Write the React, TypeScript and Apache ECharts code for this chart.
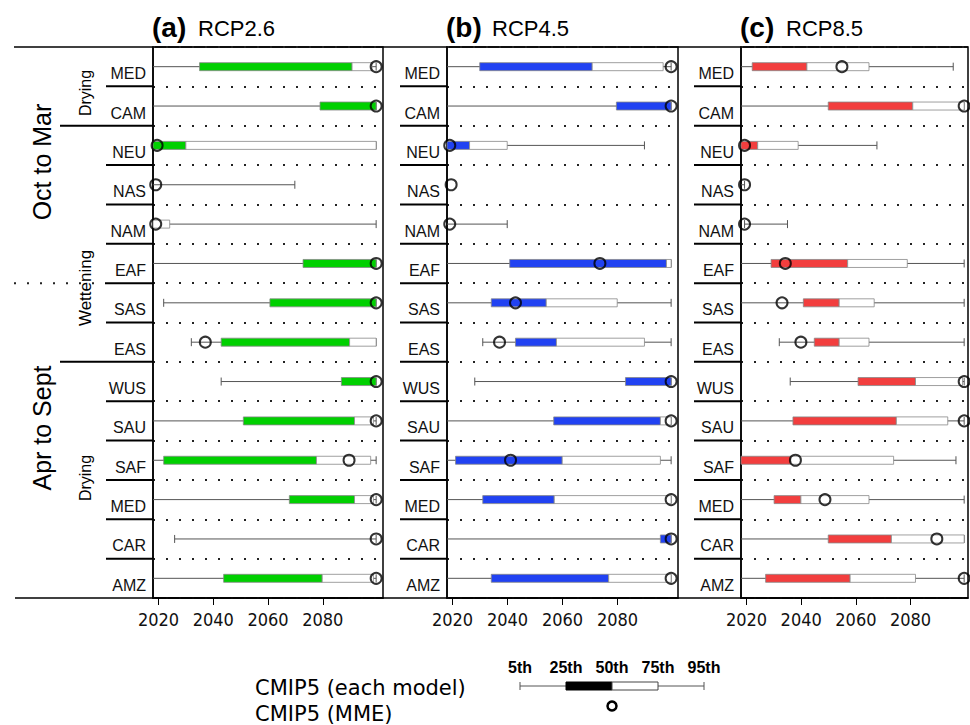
import React, { useEffect, useRef } from "react";
import * as echarts from "echarts";

const regions = ["MED", "CAM", "NEU", "NAS", "NAM", "EAF", "SAS", "EAS", "WUS", "SAU", "SAF", "MED", "CAR", "AMZ"];
const tickYears = [2020, 2040, 2060, 2080];
const panelTitles = ["(a)", "(b)", "(c)"];
const scenarios = ["RCP2.6", "RCP4.5", "RCP8.5"];
const legendLabels = ["5th", "25th", "50th", "75th", "95th"];

// RCP2.6
const a_p5 = [2018, 2018, 2018, 2018, 2018, 2018, 2021.9, 2032, 2042.9, 2018, 2018, 2018, 2025.9, 2018];
const a_p25 = [2035, 2079, 2018, 2018, 2018, 2072.8, 2060.7, 2042.9, 2086.8, 2051, 2021.9, 2067.8, 2099.5, 2043.8];
const a_p50 = [2090.7, 2099.5, 2030, 2018, 2018, 2099.5, 2099.5, 2089.8, 2099.5, 2091.6, 2077.7, 2091.6, 2099.5, 2079.8];
const a_p75 = [2098, 2099.5, 2099.5, 2018, 2024.1, 2099.5, 2099.5, 2099.5, 2099.5, 2098.5, 2097.5, 2098.5, 2099.5, 2098.5];
const a_p95 = [2099.5, 2099.5, 2099.5, 2069.8, 2099.5, 2099.5, 2099.5, 2099.5, 2099.5, 2099.5, 2099.5, 2099.5, 2099.5, 2099.5];
const a_mme = [2099.5, 2099.5, 2019.5, 2019, 2019, 2099.5, 2099.5, 2037.1, 2099.5, 2099.5, 2089.6, 2099.5, 2099.5, 2099.5];

// RCP4.5
const b_p5 = [2018, 2018, 2018, 2018, 2018, 2018, 2018, 2031, 2028.1, 2018, 2018, 2018, 2018, 2018];
const b_p25 = [2029.9, 2079.6, 2018, 2018, 2018, 2040.8, 2034.1, 2042.9, 2082.9, 2056.8, 2021.1, 2031, 2095.6, 2034.1];
const b_p50 = [2070.8, 2099.5, 2026.2, 2018, 2018, 2097.8, 2054.1, 2057.8, 2099.5, 2095.6, 2059.9, 2057, 2099.5, 2076.8];
const b_p75 = [2096.6, 2099.5, 2039.9, 2018, 2018, 2099.5, 2079.9, 2089.8, 2099.5, 2099.5, 2095.6, 2099.5, 2099.5, 2099.5];
const b_p95 = [2099.5, 2099.5, 2089.8, 2018, 2039.9, 2099.5, 2099.5, 2099.5, 2099.5, 2099.5, 2099.5, 2099.5, 2099.5, 2099.5];
const b_mme = [2099.5, 2099.5, 2019, 2019.5, 2019, 2073.6, 2042.9, 2037.1, 2099.5, 2099.5, 2041.1, 2099.5, 2099.5, 2099.5];

// RCP8.5
const c_p5 = [2018, 2018, 2018, 2018, 2019.3, 2018, 2018, 2032, 2036, 2018, 2018, 2018, 2018, 2018];
const c_p25 = [2022.1, 2049.9, 2018, 2018, 2018, 2029, 2040.8, 2044.8, 2060.8, 2037, 2018, 2030.1, 2049.9, 2027];
const c_p50 = [2042.1, 2080.8, 2024.1, 2018, 2018, 2057, 2053.9, 2053.9, 2081.8, 2074.8, 2036.2, 2039.9, 2073, 2057.9];
const c_p75 = [2064.8, 2099.6, 2038.9, 2018, 2018, 2078.8, 2066.7, 2064.8, 2099, 2093.6, 2073.8, 2064.8, 2099.6, 2081.8];
const c_p95 = [2095.6, 2099.6, 2067.7, 2019.3, 2035, 2099.6, 2099.6, 2099.6, 2099.6, 2099.6, 2096.6, 2099.6, 2099.6, 2099.6];
const c_mme = [2054.9, 2099.6, 2019.3, 2019.3, 2019.3, 2034.2, 2033, 2039.9, 2099.6, 2099.6, 2037.9, 2048.7, 2089.6, 2099.6];

const panels = [
  { p5: a_p5, p25: a_p25, p50: a_p50, p75: a_p75, p95: a_p95, mme: a_mme, color: "#00d000", left: 153, width: 230, max: 2102 },
  { p5: b_p5, p25: b_p25, p50: b_p50, p75: b_p75, p95: b_p95, mme: b_mme, color: "#2142f2", left: 447, width: 231, max: 2102 },
  { p5: c_p5, p25: c_p25, p50: c_p50, p75: c_p75, p95: c_p95, mme: c_mme, color: "#f23e3e", left: 741, width: 227, max: 2101 },
];

const X_MIN = 2018;
const TOP = 47;
const HEIGHT = 551;
const FONT = "'Liberation Sans', Arial, Helvetica, sans-serif";

export default function App() {
  const ref = useRef<HTMLDivElement>(null);
  useEffect(() => {
    if (!ref.current) return;
    const chart = echarts.init(ref.current, null, { renderer: "svg" });

    const grids: any[] = [];
    const xAxes: any[] = [];
    const yAxes: any[] = [];
    const series: any[] = [];
    const graphics: any[] = [];

    panels.forEach((p, i) => {
      grids.push({
        left: p.left,
        top: TOP,
        width: p.width,
        height: HEIGHT,
        show: true,
        borderColor: "#000",
        borderWidth: 1.5,
        backgroundColor: "transparent",
      });
      xAxes.push({
        type: "value",
        gridIndex: i,
        min: X_MIN,
        max: p.max,
        axisLine: { show: true, lineStyle: { color: "#000", width: 1.5 } },
        axisTick: { show: true, customValues: tickYears, length: 7, lineStyle: { color: "#000", width: 1 } },
        axisLabel: {
          show: true,
          customValues: tickYears,
          formatter: (v: number) => String(v),
          margin: 12,
          fontSize: 18,
          color: "#111",
          fontFamily: "'Liberation Sans Narrow', 'DejaVu Sans Condensed', 'Liberation Sans', sans-serif",
        },
        splitLine: { show: false },
      });
      yAxes.push({
        type: "category",
        gridIndex: i,
        data: regions,
        inverse: true,
        axisLine: { show: true, lineStyle: { color: "#000", width: 1.5 } },
        axisTick: { show: false },
        axisLabel: {
          show: true,
          interval: 0,
          margin: 7,
          fontSize: 16,
          color: "#111",
          fontFamily: FONT,
          verticalAlign: "top",
          lineHeight: 14,
        },
        splitLine: {
          show: true,
          interval: 0,
          lineStyle: { color: "#222", width: 2, type: [2, 11] },
        },
      });
      const color = p.color;
      series.push({
        type: "custom",
        xAxisIndex: i,
        yAxisIndex: i,
        encode: { x: [1, 2, 3, 4, 5], y: 0 },
        data: regions.map((_, k) => [k, p.p5[k], p.p25[k], p.p50[k], p.p75[k], p.p95[k]]),
        renderItem: (params: any, api: any) => {
          const idx = api.value(0);
          const v = [1, 2, 3, 4, 5].map((d) => api.value(d));
          const pts = v.map((x) => api.coord([x, idx]));
          const y = pts[0][1];
          const h = 8;
          const children: any[] = [];
          children.push({
            type: "line",
            shape: { x1: pts[0][0], y1: y, x2: pts[4][0], y2: y },
            style: { stroke: "#555", lineWidth: 1 },
          });
          if (v[0] > X_MIN + 0.5) {
            children.push({
              type: "line",
              shape: { x1: pts[0][0], y1: y - h / 2, x2: pts[0][0], y2: y + h / 2 },
              style: { stroke: "#555", lineWidth: 1 },
            });
          }
          if (v[4] > X_MIN + 0.5) {
            children.push({
              type: "line",
              shape: { x1: pts[4][0], y1: y - h / 2, x2: pts[4][0], y2: y + h / 2 },
              style: { stroke: "#555", lineWidth: 1 },
            });
          }
          if (pts[2][0] - pts[1][0] > 0.5) {
            children.push({
              type: "rect",
              shape: { x: pts[1][0], y: y - h / 2, width: pts[2][0] - pts[1][0], height: h },
              style: { fill: color, stroke: "#888", lineWidth: 0.8 },
            });
          }
          if (pts[3][0] - pts[2][0] > 0.5) {
            children.push({
              type: "rect",
              shape: { x: pts[2][0], y: y - h / 2, width: pts[3][0] - pts[2][0], height: h },
              style: { fill: "#fff", stroke: "#888", lineWidth: 0.8 },
            });
          }
          return { type: "group", children };
        },
        z: 2,
      });
      series.push({
        type: "scatter",
        xAxisIndex: i,
        yAxisIndex: i,
        data: p.mme.map((m, k) => [m, k]),
        symbol: "circle",
        symbolSize: 11,
        itemStyle: { color: "rgba(0,0,0,0)", borderColor: "#000", borderWidth: 2 },
        z: 3,
        silent: true,
      });

      // titles
      graphics.push({
        type: "text",
        x: p.left - 1,
        y: 27,
        style: { text: panelTitles[i], fontSize: 28, fontWeight: "bold", fontFamily: FONT, fill: "#000", verticalAlign: "middle" },
      });
      graphics.push({
        type: "text",
        x: p.left + 45,
        y: 28,
        style: { text: scenarios[i], fontSize: 22, fontFamily: FONT, fill: "#000", verticalAlign: "middle" },
      });

      // label column separators
      const colLeft = p.left - 47;
      for (let k = 1; k < regions.length; k++) {
        const yy = TOP + (k * HEIGHT) / regions.length;
        let x1 = colLeft;
        if (i === 0 && (k === 2 || k === 8)) x1 = 60;
        if (i === 0 && k === 6) x1 = 105;
        graphics.push({
          type: "line",
          shape: { x1, y1: yy, x2: p.left, y2: yy },
          style: { stroke: "#000", lineWidth: 2 },
        });
      }
    });

    // long frame lines
    graphics.push({ type: "line", shape: { x1: 14, y1: TOP, x2: 968, y2: TOP }, style: { stroke: "#000", lineWidth: 1.5 } });
    graphics.push({ type: "line", shape: { x1: 15, y1: TOP + HEIGHT, x2: 968, y2: TOP + HEIGHT }, style: { stroke: "#000", lineWidth: 1.5 } });
    const midY = TOP + (6 * HEIGHT) / regions.length;
    graphics.push({
      type: "line",
      shape: { x1: 14, y1: midY, x2: 100, y2: midY },
      style: { stroke: "#222", lineWidth: 2, lineDash: [2, 11] },
    });

    // rotated group labels
    const rot = (text: string, x: number, y: number, size: number) => ({
      type: "text",
      x,
      y,
      rotation: Math.PI / 2,
      style: { text, fontSize: size, fontFamily: FONT, fill: "#000", align: "center", verticalAlign: "middle" },
    });
    graphics.push(rot("Oct to Mar", 42, 162, 25));
    graphics.push(rot("Apr to Sept", 42, 428, 25));
    graphics.push(rot("Drying", 85, 93, 16));
    graphics.push(rot("Wettening", 85, 288, 17));
    graphics.push(rot("Drying", 85, 478, 16));

    // legend
    const LF = "'DejaVu Sans', Verdana, sans-serif";
    graphics.push({ type: "text", x: 255, y: 688, style: { text: "CMIP5 (each model)", fontSize: 21, fontFamily: LF, fill: "#000", verticalAlign: "middle" } });
    graphics.push({ type: "text", x: 255, y: 714, style: { text: "CMIP5 (MME)", fontSize: 21, fontFamily: LF, fill: "#000", verticalAlign: "middle" } });
    const lx = [520, 566, 612, 658, 704];
    legendLabels.forEach((t, k) => {
      graphics.push({
        type: "text",
        x: lx[k],
        y: 667,
        style: { text: t, fontSize: 16, fontWeight: "bold", fontFamily: FONT, fill: "#000", align: "center", verticalAlign: "middle" },
      });
    });
    graphics.push({ type: "line", shape: { x1: lx[0], y1: 686, x2: lx[4], y2: 686 }, style: { stroke: "#555", lineWidth: 1 } });
    graphics.push({ type: "line", shape: { x1: lx[0], y1: 682, x2: lx[0], y2: 690 }, style: { stroke: "#555", lineWidth: 1 } });
    graphics.push({ type: "line", shape: { x1: lx[4], y1: 682, x2: lx[4], y2: 690 }, style: { stroke: "#555", lineWidth: 1 } });
    graphics.push({ type: "rect", shape: { x: lx[1], y: 682, width: lx[2] - lx[1], height: 8 }, style: { fill: "#000", stroke: "#000", lineWidth: 1 } });
    graphics.push({ type: "rect", shape: { x: lx[2], y: 682, width: lx[3] - lx[2], height: 8 }, style: { fill: "#fff", stroke: "#444", lineWidth: 1 } });
    graphics.push({ type: "circle", shape: { cx: lx[2], cy: 706, r: 4.5 }, style: { fill: "none", stroke: "#000", lineWidth: 2.5 } });

    chart.setOption({
      animation: false,
      backgroundColor: "#fff",
      grid: grids,
      xAxis: xAxes,
      yAxis: yAxes,
      series,
      graphic: graphics,
    });
    return () => chart.dispose();
  }, []);
  return <div ref={ref} style={{ position: "fixed", left: 0, top: 0, width: 970, height: 725 }} />;
}
